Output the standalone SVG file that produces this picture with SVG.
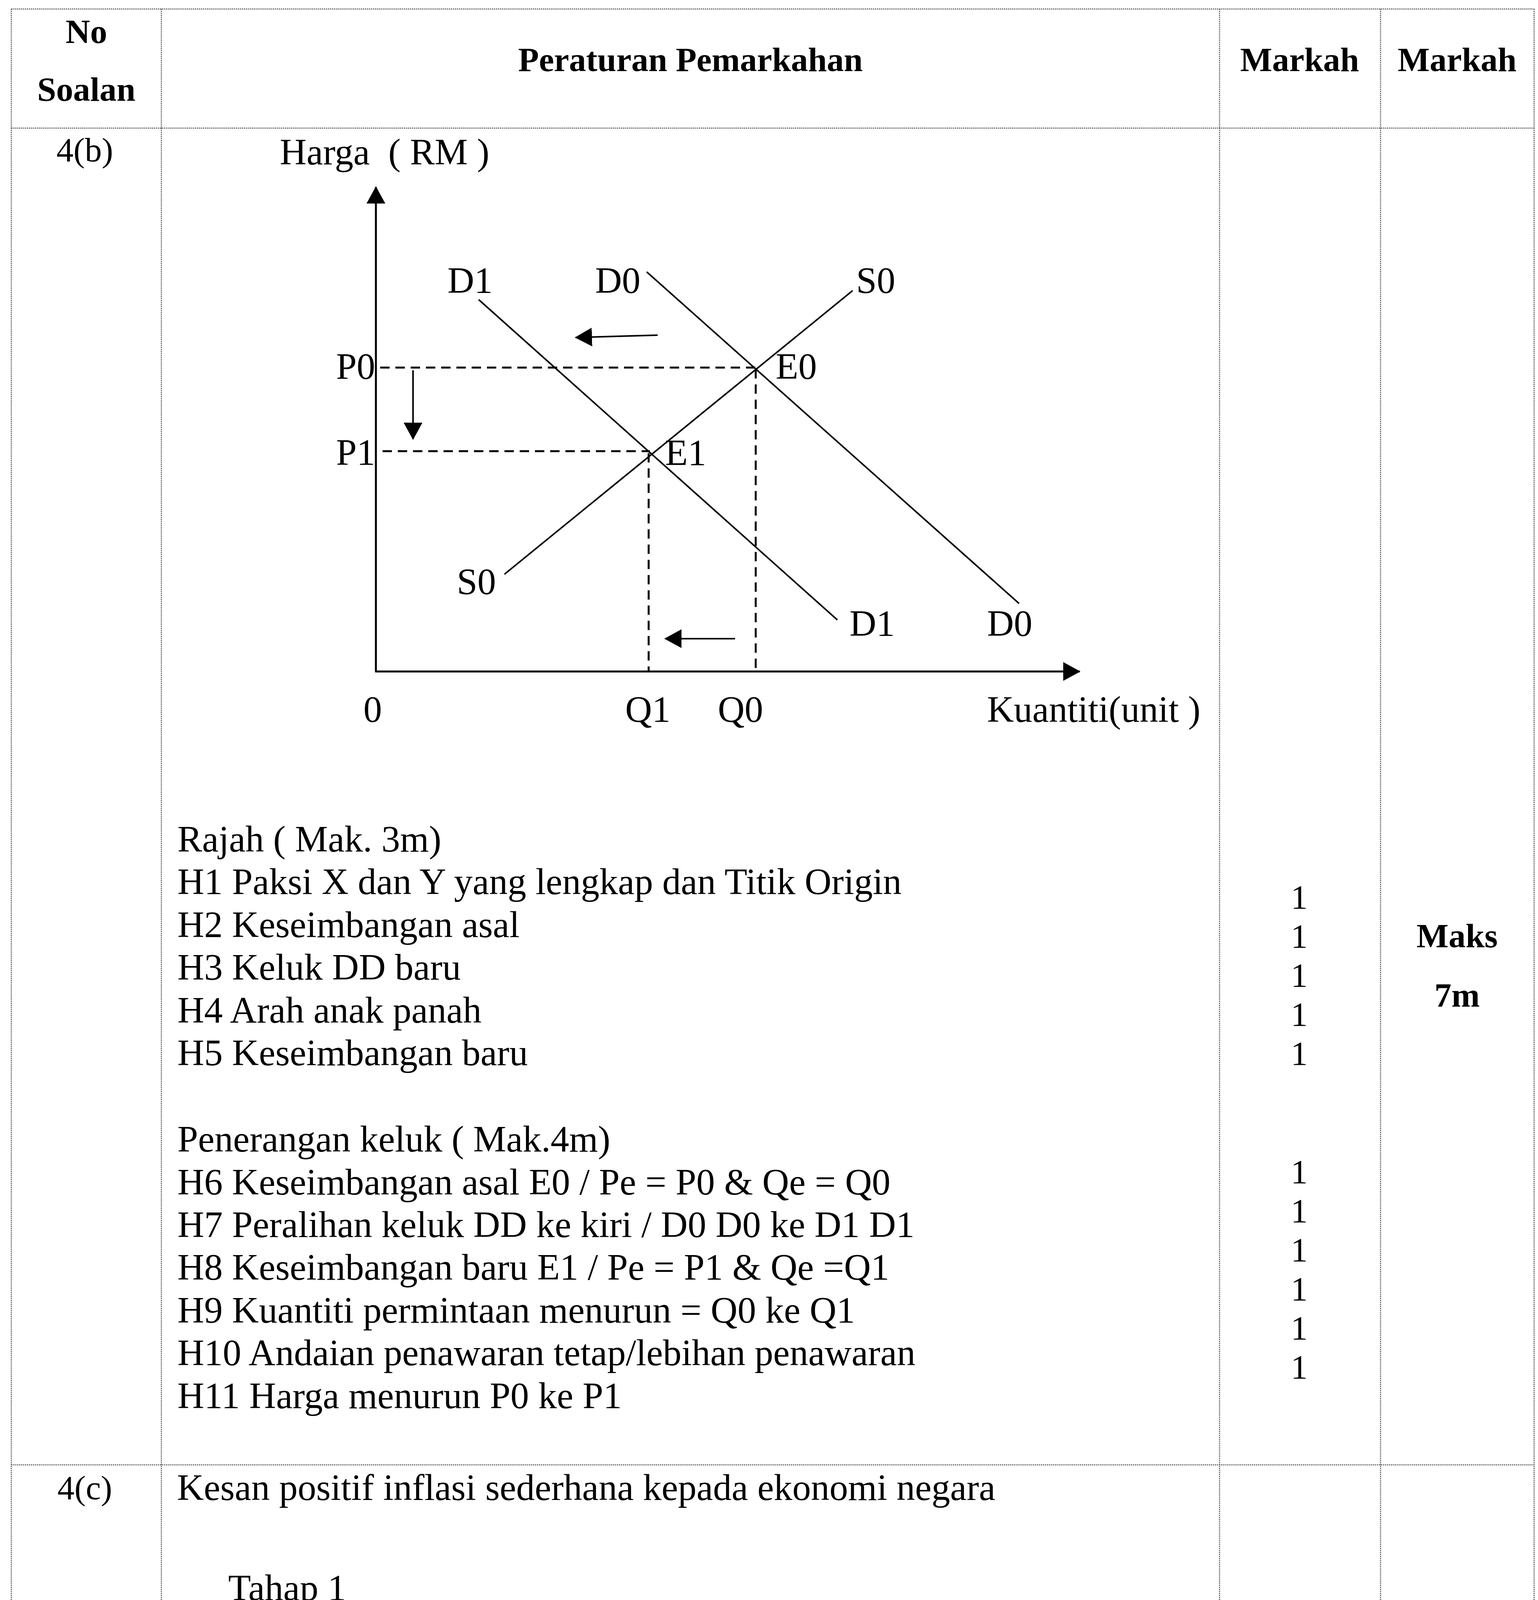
<svg xmlns="http://www.w3.org/2000/svg" width="3936" height="5503" viewBox="0 0 3936 5503">
<style>
text{font-family:"Liberation Serif","Times New Roman",serif;fill:#000}
.b{font-size:95px}
.h{font-size:87px;font-weight:bold}
.s{font-size:87px}
.c{text-anchor:middle}
.grid{stroke:#666;stroke-width:3;stroke-dasharray:3 2;fill:none}
.ln{stroke:#000;stroke-width:4;fill:none}
.ax{stroke:#000;stroke-width:5;fill:none}
.dash{stroke:#000;stroke-width:5;fill:none;stroke-dasharray:24 15}
</style>
<defs>
<marker id="ah" viewBox="0 0 44 48" refX="42" refY="24" markerWidth="44" markerHeight="48" markerUnits="userSpaceOnUse" orient="auto">
<path d="M0,0 L44,24 L0,48 z" fill="#000"/>
</marker>
</defs>
<rect width="3936" height="5503" fill="#fff"/>

<g id="table-grid">
<line class="grid" x1="29" y1="23" x2="3926" y2="23"/>
<line class="grid" x1="29" y1="328" x2="3926" y2="328"/>
<line class="grid" x1="29" y1="3750" x2="3926" y2="3750"/>
<line class="grid" x1="29" y1="23" x2="29" y2="5503"/>
<line class="grid" x1="413" y1="23" x2="413" y2="5503"/>
<line class="grid" x1="3121" y1="23" x2="3121" y2="5503"/>
<line class="grid" x1="3533" y1="23" x2="3533" y2="5503"/>
<line class="grid" x1="3926" y1="23" x2="3926" y2="5503"/>
</g>

<g id="header">
<text class="h c" x="221" y="110">No</text>
<text class="h c" x="221" y="258">Soalan</text>
<text class="h c" x="1767" y="182">Peraturan Pemarkahan</text>
<text class="h c" x="3326" y="182">Markah</text>
<text class="h c" x="3729" y="182">Markah</text>
</g>

<g id="row-4b-label">
<text class="s c" x="217" y="413">4(b)</text>
</g>

<g id="chart">
<g id="axes">
<line class="ax" x1="962" y1="1719" x2="962" y2="479" marker-end="url(#ah)"/>
<line class="ax" x1="960" y1="1719" x2="2763" y2="1719" marker-end="url(#ah)"/>
</g>
<g id="curve-D1"><line class="ln" x1="1225" y1="767" x2="2143" y2="1587"/></g>
<g id="curve-D0"><line class="ln" x1="1655" y1="696" x2="2608" y2="1545"/></g>
<g id="curve-S0"><line class="ln" x1="1291" y1="1470" x2="2182" y2="744"/></g>
<g id="chart-labels">
<text class="b" x="716" y="421" xml:space="preserve">Harga  ( RM )</text>
<text class="b" x="1145" y="750">D1</text>
<text class="b" x="1523" y="750">D0</text>
<text class="b" x="2191" y="750">S0</text>
<text class="b" x="860" y="970">P0</text>
<text class="b" x="1985" y="970">E0</text>
<text class="b" x="860" y="1190">P1</text>
<text class="b" x="1702" y="1191">E1</text>
<text class="b" x="1169" y="1521">S0</text>
<text class="b" x="2174" y="1628">D1</text>
<text class="b" x="2526" y="1628">D0</text>
<text class="b" x="930" y="1848">0</text>
<text class="b" x="1600" y="1848">Q1</text>
<text class="b" x="1837" y="1848">Q0</text>
<text class="b" x="2526" y="1848">Kuantiti(unit )</text>
</g>
</g>

<g id="connectors">
<line class="dash" x1="973" y1="941" x2="1936" y2="941"/>
<line class="dash" x1="979" y1="1155" x2="1663" y2="1155"/>
<line class="dash" x1="1660" y1="1160" x2="1660" y2="1719"/>
<line class="dash" x1="1934" y1="945" x2="1934" y2="1719"/>
<line class="ln" x1="1683" y1="858" x2="1473" y2="864" marker-end="url(#ah)"/>
<line class="ln" x1="1057" y1="948" x2="1057" y2="1124" marker-end="url(#ah)"/>
<line class="ln" x1="1881" y1="1635" x2="1702" y2="1635" marker-end="url(#ah)"/>
</g>

<g id="row-4b-text">
<text class="b" x="454" y="2180">Rajah ( Mak. 3m)</text>
<text class="b" x="454" y="2289">H1 Paksi X dan Y yang lengkap dan Titik Origin</text>
<text class="b" x="454" y="2399">H2 Keseimbangan asal</text>
<text class="b" x="454" y="2508">H3 Keluk DD baru</text>
<text class="b" x="454" y="2618">H4 Arah anak panah</text>
<text class="b" x="454" y="2727">H5 Keseimbangan baru</text>
<text class="b" x="454" y="2948">Penerangan keluk ( Mak.4m)</text>
<text class="b" x="454" y="3058">H6 Keseimbangan asal E0 / Pe = P0 &amp; Qe = Q0</text>
<text class="b" x="454" y="3167">H7 Peralihan keluk DD ke kiri / D0 D0 ke D1 D1</text>
<text class="b" x="454" y="3276">H8 Keseimbangan baru E1 / Pe = P1 &amp; Qe =Q1</text>
<text class="b" x="454" y="3386">H9 Kuantiti permintaan menurun = Q0 ke Q1</text>
<text class="b" x="454" y="3495">H10 Andaian penawaran tetap/lebihan penawaran</text>
<text class="b" x="454" y="3605">H11 Harga menurun P0 ke P1</text>
</g>

<g id="row-4b-marks">
<text class="s c" x="3325" y="2326">1</text>
<text class="s c" x="3325" y="2426">1</text>
<text class="s c" x="3325" y="2526">1</text>
<text class="s c" x="3325" y="2626">1</text>
<text class="s c" x="3325" y="2726">1</text>
<text class="s c" x="3325" y="3029">1</text>
<text class="s c" x="3325" y="3129">1</text>
<text class="s c" x="3325" y="3229">1</text>
<text class="s c" x="3325" y="3329">1</text>
<text class="s c" x="3325" y="3429">1</text>
<text class="s c" x="3325" y="3529">1</text>
</g>

<g id="row-4b-total">
<text class="h c" x="3729" y="2425">Maks</text>
<text class="h c" x="3729" y="2577">7m</text>
</g>

<g id="row-4c-label">
<text class="s c" x="217" y="3838">4(c)</text>
</g>

<g id="row-4c-text">
<text class="b" x="453" y="3840">Kesan positif inflasi sederhana kepada ekonomi negara</text>
<text class="b" x="584" y="4097">Tahap 1</text>
<text class="b" x="577" y="4223">•</text>
<text class="b" x="637" y="4223">Pengetahuan terhad terhadap teori/konsep</text>
<text class="b" x="577" y="4349">•</text>
<text class="b" x="637" y="4349">Menyenaraikan fakta / isi sahaja tanpa huraian</text>
<text class="b" x="577" y="4475">•</text>
<text class="b" x="637" y="4475">Jawapan secara umum</text>
<text class="b" x="577" y="4601">•</text>
<text class="b" x="637" y="4601">Satu sisi</text>
<text class="b" x="584" y="4856">Tahap 2</text>
<text class="b" x="577" y="4982">•</text>
<text class="b" x="645" y="4982" word-spacing="8">Berupaya mengaplikasikan fakta dan konsep dengan betul dan</text>
<text class="b" x="637" y="5107">sesuai dengan situasi yang diberikan</text>
<text class="b" x="577" y="5232">•</text>
<text class="b" x="637" y="5232">Maklumat dijelaskan dengan agak teratur</text>
<text class="b" x="577" y="5357">•</text>
<text class="b" x="637" y="5357">Idea disampaikan adalah logik dan berkaitan</text>
<text class="b" x="577" y="5482">•</text>
<text class="b" x="637" y="5482">Satu sisi</text>
</g>
</svg>
